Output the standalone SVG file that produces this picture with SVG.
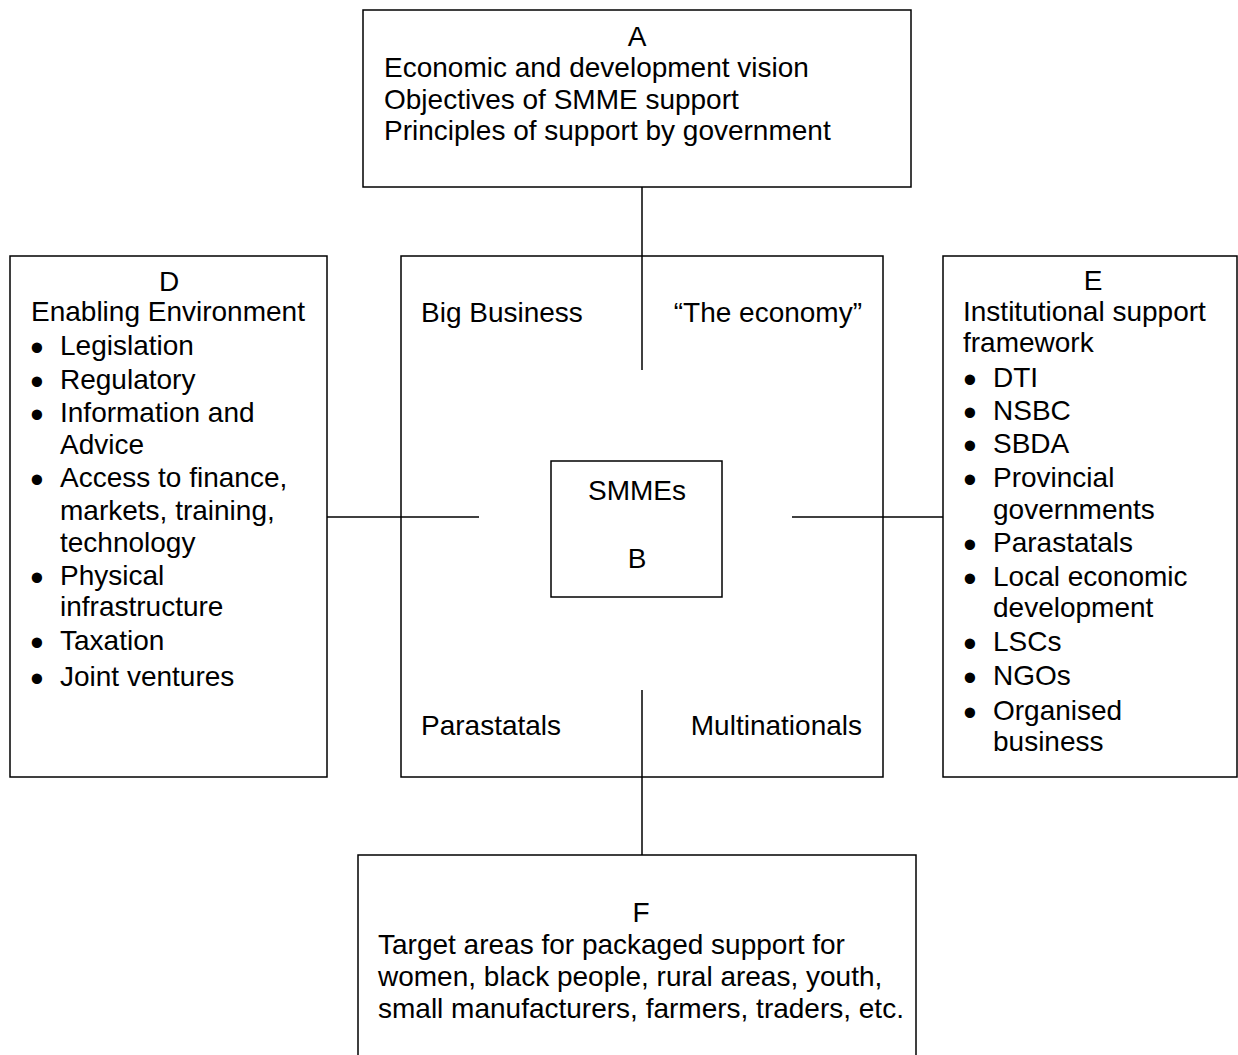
<svg xmlns="http://www.w3.org/2000/svg" width="1238" height="1055" viewBox="0 0 1238 1055">
<style>
.box{fill:#fff;stroke:#000;stroke-width:1.5}
.ln{stroke:#000;stroke-width:1.5;fill:none}
text{font-family:"Liberation Sans",Arial,sans-serif;font-size:28px;fill:#000}
.c{text-anchor:middle}
.e{text-anchor:end}
text.b{text-anchor:middle;font-size:38px}
</style>
<rect width="1238" height="1055" fill="#fff"/>
<g id="nodeA">
<rect class="box" x="363" y="10" width="548" height="177"/>
<text class="c" x="637" y="46">A</text>
<text x="384" y="77">Economic and development vision</text>
<text x="384" y="109">Objectives of SMME support</text>
<text x="384" y="140">Principles of support by government</text>
</g>
<g id="nodeD">
<rect class="box" x="10" y="256" width="317" height="521"/>
<text class="c" x="169" y="291">D</text>
<text x="31" y="321">Enabling Environment</text>
<text class="b" x="37" y="361">•</text><text x="60" y="355">Legislation</text>
<text class="b" x="37" y="395">•</text><text x="60" y="389">Regulatory</text>
<text class="b" x="37" y="428">•</text><text x="60" y="422">Information and</text>
<text x="60" y="454">Advice</text>
<text class="b" x="37" y="493">•</text><text x="60" y="487">Access to finance,</text>
<text x="60" y="520">markets, training,</text>
<text x="60" y="552">technology</text>
<text class="b" x="37" y="591">•</text><text x="60" y="585">Physical</text>
<text x="60" y="616">infrastructure</text>
<text class="b" x="37" y="656">•</text><text x="60" y="650">Taxation</text>
<text class="b" x="37" y="692">•</text><text x="60" y="686">Joint ventures</text>
</g>
<g id="nodeC">
<rect class="box" x="401" y="256" width="482" height="521"/>
<text x="421" y="322">Big Business</text>
<text class="e" x="862" y="322">“The economy”</text>
<text x="421" y="735">Parastatals</text>
<text class="e" x="862" y="735">Multinationals</text>
</g>
<g id="nodeB">
<rect class="box" x="551" y="461" width="171" height="136"/>
<text class="c" x="637" y="500">SMMEs</text>
<text class="c" x="637" y="568">B</text>
</g>
<g id="nodeE">
<rect class="box" x="943" y="256" width="294" height="521"/>
<text class="c" x="1093" y="290">E</text>
<text x="963" y="321">Institutional support</text>
<text x="963" y="352">framework</text>
<text class="b" x="970" y="393">•</text><text x="993" y="387">DTI</text>
<text class="b" x="970" y="426">•</text><text x="993" y="420">NSBC</text>
<text class="b" x="970" y="459">•</text><text x="993" y="453">SBDA</text>
<text class="b" x="970" y="493">•</text><text x="993" y="487">Provincial</text>
<text x="993" y="519">governments</text>
<text class="b" x="970" y="558">•</text><text x="993" y="552">Parastatals</text>
<text class="b" x="970" y="592">•</text><text x="993" y="586">Local economic</text>
<text x="993" y="617">development</text>
<text class="b" x="970" y="657">•</text><text x="993" y="651">LSCs</text>
<text class="b" x="970" y="691">•</text><text x="993" y="685">NGOs</text>
<text class="b" x="970" y="726">•</text><text x="993" y="720">Organised</text>
<text x="993" y="751">business</text>
</g>
<g id="nodeF">
<rect class="box" x="358" y="855" width="558" height="220"/>
<text class="c" x="641" y="922">F</text>
<text x="378" y="954">Target areas for packaged support for</text>
<text x="378" y="986">women, black people, rural areas, youth,</text>
<text x="378" y="1018">small manufacturers, farmers, traders, etc.</text>
</g>
<g id="connectors">
<line class="ln" x1="642" y1="187" x2="642" y2="370"/>
<line class="ln" x1="327" y1="517" x2="479" y2="517"/>
<line class="ln" x1="792" y1="517" x2="943" y2="517"/>
<line class="ln" x1="642" y1="690" x2="642" y2="855"/>
</g>
</svg>
